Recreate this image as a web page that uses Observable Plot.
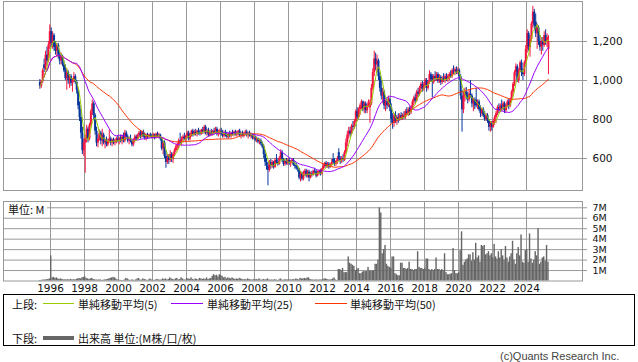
<!DOCTYPE html>
<html><head><meta charset="utf-8">
<script src="https://cdn.jsdelivr.net/npm/d3@7"></script>
<script src="https://cdn.jsdelivr.net/npm/@observablehq/plot@0.6"></script>
<style>
body{margin:0;background:#fff;}
#wrap{position:relative;width:638px;height:362px;overflow:hidden;background:#fff;}
.abs{position:absolute;}
#unit{left:4px;top:202px;padding:0 3px 0 4px;background:#fff;font:11px "Noto Sans CJK JP",sans-serif;color:#111;line-height:14px;}
#legend{left:3px;top:294px;width:632px;height:52px;box-sizing:border-box;border:1px solid #000;font:11px "Noto Sans CJK JP",sans-serif;color:#111;}
#legend .t{position:absolute;line-height:14px;white-space:nowrap;}
#legend .ln{position:absolute;height:1px;}
#copy{left:500px;top:350px;font:11px "Liberation Sans",sans-serif;color:#444;white-space:nowrap;}
</style></head><body>
<div id="wrap">
  <div id="price" class="abs" style="left:0;top:0"></div>
  <div id="vol" class="abs" style="left:0;top:195px"></div>
  <div id="unit" class="abs">単位: M</div>
  <div id="legend" class="abs">
    <div class="t" style="left:8px;top:2px">上段:</div>
    <div class="ln" style="left:39px;top:8px;width:31px;background:#99cc00"></div>
    <div class="t" style="left:74px;top:2px">単純移動平均(5)</div>
    <div class="ln" style="left:167px;top:8px;width:32px;background:#9900ff"></div>
    <div class="t" style="left:203px;top:2px">単純移動平均(25)</div>
    <div class="ln" style="left:311px;top:8px;width:32px;background:#ff3300"></div>
    <div class="t" style="left:346px;top:2px">単純移動平均(50)</div>
    <div class="t" style="left:8px;top:36px">下段:</div>
    <div class="ln" style="left:39px;top:41px;width:31px;height:4px;background:#666"></div>
    <div class="t" style="left:74px;top:36px">出来高 単位:(M株/口/枚)</div>
  </div>
  <div id="copy" class="abs">(c)Quants Research Inc.</div>
</div>
<script>
// Monthly candles, May 1995 – Apr 2025
const startYear = 1995, startMonth = 5;
const open = [
 990,970,995,1080,1060,1130,1100,1180,
 1250,1190,1230,1170,1150,1180,1130,1100,1120,1080,1050,1010,
 1040,1000,1020,985,1000,1020,990,950,870,810,730,640,
 680,700,750,700,770,840,880,820,740,680,700,730,
 690,720,680,690,670,690,700,680,695,680,690,700,
 690,700,690,710,690,730,710,690,700,690,670,690,
 710,700,720,730,710,735,715,705,720,710,720,715,
 710,720,705,725,715,720,700,650,680,610,580,610,
 590,620,595,620,640,660,670,690,680,700,710,700,
 715,730,700,725,740,720,735,725,740,730,725,745,
 735,760,730,740,720,735,725,740,730,750,725,735,
 740,725,715,730,720,710,725,715,730,725,735,720,
 730,740,720,725,715,730,735,720,730,715,720,705,
 710,695,700,685,690,675,660,620,580,560,540,580,
 560,580,555,590,580,570,600,630,590,570,585,575,
 590,575,585,590,565,560,550,545,500,520,495,525,
 535,510,530,500,520,515,535,530,510,525,535,520,
 545,560,575,560,570,555,570,595,580,570,585,630,
 595,590,600,590,630,680,720,740,725,765,760,790,
 840,810,850,870,890,850,880,845,870,860,880,960,
 1040,1110,1080,1100,1020,960,920,940,870,890,870,900,
 860,800,780,820,790,810,795,820,805,820,810,840,
 830,850,835,860,890,910,895,940,930,960,980,955,
 975,1000,960,990,1030,1020,990,1020,1005,1030,995,1015,
 990,1010,1000,1020,1005,1020,1030,1020,1050,1045,1055,1040,
 1050,1020,920,850,920,940,920,900,930,920,880,900,
 900,870,890,850,830,850,820,800,820,790,760,780,
 760,790,810,830,860,845,870,855,880,845,870,890,
 870,900,940,980,1040,1070,1000,1050,1090,1040,1030,1090,
 1160,1240,1170,1210,1290,1350,1300,1240,1270,1200,1170,1200,
 1180,1230,1200,1160
];
const high = [
 1005,1000,1060,1110,1150,1170,1200,1285,
 1270,1250,1240,1200,1190,1190,1150,1140,1130,1100,1080,1060,
 1050,1030,1030,1010,1040,1030,1000,960,890,850,760,700,
 720,770,760,780,850,900,890,830,760,720,745,740,
 750,730,700,710,700,745,710,700,705,700,710,715,
 710,720,720,730,745,740,720,710,720,700,700,720,
 720,725,740,745,740,745,730,725,730,725,730,725,
 730,725,730,735,730,725,705,690,690,640,620,620,
 640,630,630,650,670,680,700,730,710,720,730,720,
 740,740,730,745,750,745,750,745,755,745,750,760,
 770,770,750,755,745,750,745,755,760,760,745,750,
 755,745,740,745,735,730,740,735,745,740,745,740,
 745,750,735,740,735,745,745,735,740,730,725,720,
 715,710,705,700,700,685,670,640,600,580,590,595,
 590,585,600,620,600,610,645,640,600,595,600,600,
 600,590,600,600,580,575,565,550,530,530,535,545,
 545,540,540,530,535,540,550,540,535,540,545,550,
 570,580,585,580,580,575,595,625,600,590,610,650,
 610,610,620,640,700,740,760,760,775,790,800,850,
 860,860,880,900,895,890,890,880,900,900,980,1060,
 1150,1140,1130,1110,1040,1000,960,950,900,910,920,910,
 880,830,830,840,820,830,830,835,830,840,850,860,
 860,865,870,900,920,930,950,960,970,990,995,990,
 1010,1010,1000,1050,1040,1030,1030,1045,1040,1040,1030,1025,
 1020,1035,1030,1035,1030,1040,1050,1060,1075,1065,1070,1065,
 1060,1030,950,940,960,965,940,950,1000,930,910,910,
 960,900,900,870,860,860,840,830,830,800,790,790,
 800,820,840,870,880,880,900,890,890,880,900,905,
 910,950,990,1050,1085,1080,1060,1100,1105,1060,1100,1180,
 1260,1250,1230,1300,1380,1365,1340,1290,1280,1230,1220,1220,
 1250,1260,1240,1230
];
const low = [
 955,960,985,1040,1050,1080,1090,1160,
 1170,1160,1150,1130,1120,1110,1080,1080,1070,1040,1000,950,
 980,960,970,940,990,980,930,850,790,700,620,610,
 525,680,680,690,760,820,800,720,660,655,690,670,
 660,670,650,660,660,680,665,660,670,665,675,680,
 670,680,670,680,680,700,680,670,680,660,660,680,
 690,695,705,700,705,705,695,690,700,700,705,700,
 700,695,700,705,700,690,640,620,600,550,570,570,
 580,580,575,610,630,640,650,670,665,680,690,680,
 700,690,690,710,710,715,715,710,720,715,720,725,
 725,720,715,710,710,715,715,720,725,715,710,720,
 715,705,705,710,700,700,705,705,715,710,715,710,
 715,710,700,710,705,715,710,700,710,700,695,695,
 685,680,675,670,665,650,600,560,540,460,530,545,
 550,545,550,570,560,565,590,580,560,560,565,565,
 565,555,570,560,545,540,530,490,480,485,485,510,
 500,500,480,495,505,510,520,500,505,515,510,515,
 540,550,550,550,545,550,560,570,560,560,570,585,
 570,575,580,585,620,660,700,710,720,740,750,780,
 790,800,820,850,840,830,830,830,860,780,870,950,
 1020,1050,1040,1000,940,900,880,850,840,850,860,840,
 780,750,760,780,770,780,790,795,795,800,800,820,
 815,820,825,850,870,880,890,915,920,940,940,945,
 960,940,950,980,990,910,980,995,995,985,985,975,
 980,990,985,995,990,1000,1010,1010,1030,1025,1030,1030,
 1000,900,735,830,890,900,880,890,910,860,840,850,
 860,850,840,810,815,810,790,790,780,740,735,740,
 755,770,780,820,830,835,840,845,830,835,860,850,
 860,890,920,970,1020,990,985,1040,1020,1000,1020,1080,
 1140,1150,1120,1200,1270,1260,1220,1160,1180,1150,1130,1150,
 1170,1180,1170,1030
];
const close = [
 970,995,1050,1060,1130,1100,1180,1250,
 1190,1230,1170,1150,1180,1130,1100,1120,1080,1050,1010,1040,
 1000,1020,985,1000,1020,990,950,870,810,730,640,680,
 700,750,700,770,840,880,820,740,680,700,730,690,
 720,680,690,670,690,700,680,695,680,690,700,690,
 700,690,710,690,730,710,690,700,690,670,690,710,
 700,720,730,710,735,715,705,720,710,720,715,710,
 720,705,725,715,720,700,650,680,610,580,600,590,
 620,595,620,640,660,670,690,680,700,710,700,715,
 730,700,725,740,720,735,725,740,730,725,745,735,
 760,730,740,720,735,725,740,730,750,725,735,740,
 725,715,730,720,710,725,715,730,725,735,720,730,
 740,720,725,715,730,735,720,730,715,720,705,710,
 695,700,685,690,675,660,620,580,560,540,580,560,
 580,555,590,580,570,600,630,590,570,585,575,590,
 575,585,590,565,560,550,545,500,520,495,525,535,
 510,530,500,520,515,535,530,510,525,535,520,545,
 560,575,560,570,555,570,580,580,570,585,600,595,
 590,600,590,630,680,720,740,725,765,760,790,840,
 810,850,870,890,850,880,845,870,890,880,960,1040,
 1110,1080,1100,1020,960,920,940,870,890,870,900,860,
 800,780,820,790,810,795,820,805,820,810,840,830,
 850,835,860,890,910,895,940,930,960,980,955,975,
 1000,960,990,1030,1005,990,1020,1005,1030,995,1015,990,
 1010,1000,1020,1005,1020,1030,1020,1050,1045,1055,1040,1050,
 1020,920,850,920,940,920,900,930,920,880,900,870,
 870,890,850,830,850,820,800,820,790,760,780,760,
 790,810,830,860,845,870,855,880,845,870,890,870,
 900,940,980,1040,1070,1000,1050,1090,1040,1030,1090,1160,
 1240,1170,1210,1290,1350,1280,1240,1270,1200,1170,1200,1180,
 1230,1200,1220,1200
];
// Volume, millions of shares
const volume = [
 0.05,0.05,0.08,0.1,0.1,0.12,0.15,0.2,
 2.4,0.3,0.35,0.25,0.3,0.2,0.15,0.2,0.15,0.1,0.12,0.1,
 0.12,0.1,0.15,0.1,0.12,0.1,0.15,0.2,0.25,0.2,0.3,0.35,
 0.4,0.25,0.2,0.15,0.2,0.25,0.15,0.1,0.1,0.08,0.1,0.1,
 0.05,0.08,0.1,0.12,0.15,0.2,0.25,0.3,0.35,0.3,0.2,0.1,
 0.08,0.06,0.05,0.05,0.1,0.25,0.2,0.1,0.05,0.1,0.08,0.06,
 0.1,0.2,0.25,0.1,0.08,0.2,0.15,0.1,0.05,0.1,0.2,0.1,
 0.08,0.05,0.1,0.15,0.1,0.08,0.1,0.2,0.15,0.2,0.1,0.15,
 0.3,0.2,0.15,0.1,0.2,0.25,0.1,0.15,0.3,0.2,0.1,0.1,
 0.25,0.2,0.15,0.3,0.15,0.1,0.2,0.15,0.1,0.25,0.2,0.15,
 0.2,0.15,0.3,0.15,0.2,0.25,0.45,0.6,0.5,0.55,0.4,0.6,
 0.5,0.45,0.3,0.35,0.2,0.3,0.25,0.2,0.3,0.2,0.15,0.2,
 0.15,0.25,0.2,0.15,0.1,0.15,0.1,0.2,0.15,0.1,0.1,0.12,
 0.1,0.15,0.1,0.2,0.1,0.08,0.15,0.1,0.12,0.2,0.1,0.08,
 0.1,0.08,0.12,0.1,0.05,0.1,0.2,0.1,0.08,0.1,0.12,0.1,
 0.1,0.12,0.08,0.15,0.1,0.2,0.15,0.1,0.25,0.2,0.2,0.25,
 0.2,0.3,0.3,0.15,0.1,0.1,0.08,0.1,0.1,0.08,0.1,0.1,
 0.12,0.2,0.2,0.15,0.1,0.1,0.12,0.2,0.3,0.1,0.05,1.1,
 1.1,1.0,1.2,0.8,0.8,0.8,2.3,1.7,1.6,1.5,1.4,1.0,
 1.1,1.2,0.7,0.7,0.85,0.9,0.9,0.9,1.3,0.95,0.95,0.95,
 1.0,1.6,1.6,2.0,7.0,6.5,2.6,3.0,3.4,1.6,1.4,1.3,
 1.2,2.3,2.3,0.7,0.6,0.5,0.5,1.7,1.7,1.2,1.2,1.1,
 1.2,1.8,1.1,1.1,1.0,1.1,1.1,2.8,1.3,1.2,1.2,1.1,
 1.2,2.1,2.1,1.1,1.0,1.1,1.0,1.1,2.2,1.1,1.1,1.0,
 1.1,1.0,2.6,0.8,0.6,0.6,0.65,0.7,3.1,1.0,0.7,0.7,
 0.8,2.9,4.7,1.5,1.8,2.0,2.1,2.5,2.5,1.9,2.7,2.0,
 3.6,2.2,2.4,1.8,3.4,3.3,3.4,2.5,2.6,2.8,2.4,2.6,
 2.2,3.5,2.3,2.1,2.8,2.2,3.0,2.4,2.0,3.3,2.2,1.8,
 2.3,2.6,3.8,2.0,1.6,2.6,3.2,2.4,4.4,1.8,1.7,2.9,
 3.0,1.8,4.5,2.1,1.7,2.0,2.8,2.4,5.0,1.6,1.8,2.2,
 2.3,1.9,3.4,1.8
];
const priceTicks = [600, 800, 1000, 1200];
const volumeTicks = [1, 2, 3, 4, 5, 6, 7];
const yearTicks = [1996, 1998, 2000, 2002, 2004, 2006, 2008, 2010, 2012, 2014, 2016, 2018, 2020, 2022, 2024];
const maSpecs = [{k: 50, color: "#ff3300"}, {k: 25, color: "#9900ff"}, {k: 5, color: "#99cc00"}];

const UP = "#f5163f", DOWN = "#06359c";
const rows = close.map((c, i) => {
  const mi = startMonth - 1 + i;
  const yr = startYear + Math.floor(mi / 12), m = mi % 12;
  return {t: yr + (m + 0.5) / 12, t0: yr + m / 12, t1: yr + (m + 1) / 12,
          o: open[i], h: high[i], l: low[i], c, v: volume[i],
          col: c >= open[i] ? UP : DOWN};
});

const xDomain = [1993.235, 2027.294];
const xTickEnd = 2027.59;
const grid = "#999";
const axisFont = {fontFamily: "DejaVu Sans", fontSize: "10.5px", color: "#111", background: "transparent"};

const price = Plot.plot({
  width: 638, height: 192, marginLeft: 3, marginRight: 56, marginTop: 1, marginBottom: 2,
  x: {domain: xDomain, axis: null, label: null},
  y: {domain: [436, 1405], axis: null, label: null},
  color: {type: "identity"},
  style: axisFont,
  marks: [
    Plot.gridX(yearTicks, {stroke: grid, strokeOpacity: 1}),
    Plot.ruleY(priceTicks, {x1: xDomain[0], x2: xTickEnd, stroke: grid}),
    Plot.ruleX(rows, {x: "t", y1: "l", y2: "h", stroke: "col", strokeWidth: 1}),
    Plot.ruleX(rows, {x: "t", y1: "o", y2: "c", stroke: "col", strokeWidth: 2}),
    ...maSpecs.map(s => Plot.lineY(rows, Plot.windowY({k: s.k, anchor: "end", reduce: "mean"}, {x: "t", y: "c", stroke: s.color, strokeWidth: 1}))),
    Plot.frame({stroke: grid}),
    Plot.axisY(priceTicks, {anchor: "right", label: null, tickSize: 0, tickPadding: 10, tickFormat: d3.format(","), fill: "#111"})
  ]
});
document.getElementById("price").appendChild(price);

const vol = Plot.plot({
  width: 638, height: 105, marginLeft: 3, marginRight: 56, marginTop: 6, marginBottom: 19.5,
  x: {domain: xDomain, axis: null, label: null},
  y: {domain: [0, 7.6], axis: null, label: null},
  style: {...axisFont, fontSize: "10px"},
  marks: [
    Plot.gridX(yearTicks, {stroke: grid, strokeOpacity: 1}),
    Plot.ruleY(volumeTicks, {x1: xDomain[0], x2: xTickEnd, stroke: grid}),
    Plot.rectY(rows, {x1: "t0", x2: "t1", y: "v", fill: "#666"}),
    Plot.frame({stroke: grid}),
    Plot.axisY(volumeTicks, {anchor: "right", label: null, tickSize: 0, tickPadding: 10, tickFormat: d => d + "M", fill: "#111", fontSize: 9.5}),
    Plot.axisX(yearTicks, {anchor: "bottom", label: null, tickSize: 0, tickPadding: 4, tickFormat: d => String(d), fill: "#111", fontSize: 10.5})
  ]
});
document.getElementById("vol").appendChild(vol);
</script>
</body></html>
